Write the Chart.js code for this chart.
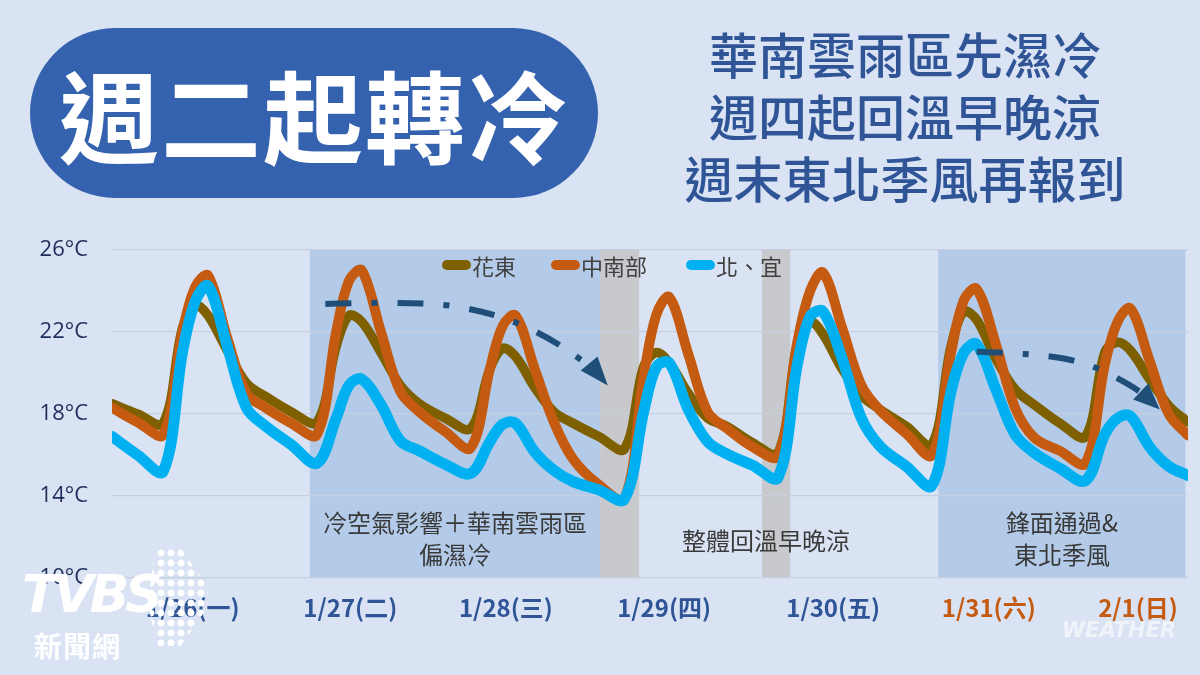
<!DOCTYPE html>
<html><head><meta charset="utf-8">
<script src="https://cdn.jsdelivr.net/npm/chart.js@4.4.1/dist/chart.umd.min.js"></script>
<style>
html,body{margin:0;padding:0;background:#dae3f3;}
#wrap{position:relative;width:1200px;height:675px;overflow:hidden;background:#dae3f3;font-family:"Noto Sans CJK TC","Noto Sans",sans-serif;}
#chart{position:absolute;left:0;top:0;}
.pill{position:absolute;left:30px;top:28px;width:568px;height:170px;border-radius:85px;background:#3562ae;color:#fff;font-size:100px;font-weight:700;line-height:170px;text-align:center;letter-spacing:2px;}
.sub{position:absolute;left:640px;top:22px;width:530px;text-align:center;color:#2f5597;font-size:49px;font-weight:500;line-height:62px;}
.band-txt{position:absolute;text-align:center;color:#3a3a3a;font-size:24px;line-height:32px;}
.legend{position:absolute;top:251px;height:28px;font-size:22px;color:#404040;line-height:28px;}
.legend span.bar{position:absolute;top:9px;width:29px;height:10px;border-radius:5px;}
.legend span.t{position:absolute;left:30px;white-space:nowrap;}
.logo{position:absolute;left:22px;top:568px;width:200px;height:110px;}
.tvbs{position:absolute;left:0;top:0;font-family:"DejaVu Sans",sans-serif;font-weight:900;font-style:italic;font-size:52px;color:#fff;letter-spacing:-4px;line-height:52px;}
.xin{position:absolute;left:12px;top:60px;font-size:28px;font-weight:700;color:#fff;line-height:34px;letter-spacing:1px;}
.dots{position:absolute;left:114px;top:-20px;width:72px;height:98px;background-image:radial-gradient(circle,#fff 3.2px,transparent 3.8px);background-size:10px 10px;clip-path:polygon(30% 0,62% 0,100% 40%,100% 60%,62% 100%,30% 100%,20% 70%,20% 30%);}
.wx{position:absolute;left:1062px;top:618px;font-family:"DejaVu Sans",sans-serif;font-style:italic;font-weight:700;font-size:21px;color:rgba(255,255,255,0.6);}
</style></head>
<body>
<div id="wrap">
<canvas id="chart" width="1200" height="675"></canvas>
<div class="pill">週二起轉冷</div>
<div class="sub">華南雲雨區先濕冷<br>週四起回溫早晚涼<br>週末東北季風再報到</div>
<div class="legend" style="left:442px"><span class="bar" style="background:#7f6000"></span><span class="t">花東</span></div>
<div class="legend" style="left:551px"><span class="bar" style="background:#c55a11"></span><span class="t">中南部</span></div>
<div class="legend" style="left:686px"><span class="bar" style="background:#00b0f0"></span><span class="t">北、宜</span></div>
<div class="band-txt" style="left:305px;top:506px;width:300px;">冷空氣影響＋華南雲雨區<br>偏濕冷</div>
<div class="band-txt" style="left:660px;top:524px;width:212px;">整體回溫早晚涼</div>
<div class="band-txt" style="left:962px;top:506px;width:200px;">鋒面通過&amp;<br>東北季風</div>
<div class="logo"><div class="dots"></div><div class="tvbs">TVBS</div><div class="xin">新聞網</div></div>
<div class="wx">WEATHER</div>
</div>
<script>
// hours from the left edge of the axis (1/26 00h)
const hours = [0,4,8,11,13,15,18,21, 24,28,32,35,37,39,42,45, 48,52,56,59,61,63,66,69, 72,76,80,83,85,87,90,93, 96,100,104,107,109,111,114,117, 120,124,128,131,133,135,138,141, 144,148,152,155,157,159,162,165, 168];
const huadong = [18.5,18.0,17.55,22.2,23.3,22.8,21.1,19.5, 18.85,18.1,17.6,21.3,22.8,22.5,21.0,19.4, 18.5,17.8,17.3,20.2,21.2,20.8,19.3,18.1, 17.55,16.9,16.3,20.3,21.0,20.5,19.0,17.8, 17.4,16.6,16.1,21.4,22.5,21.9,20.2,18.9, 18.2,17.4,16.5,21.3,23.0,22.6,20.7,19.2, 18.45,17.55,16.9,21.0,21.5,21.1,19.7,18.4, 17.6];
const zhongnan = [18.3,17.6,17.0,22.0,24.2,24.75,21.7,19.0, 18.3,17.55,17.0,22.0,24.5,25.0,22.0,19.1, 18.1,17.15,16.35,20.2,22.3,22.8,20.2,17.6, 15.8,14.55,13.85,19.8,22.85,23.7,20.9,18.1, 17.3,16.4,15.95,21.5,24.0,24.9,22.2,19.4, 18.15,17.05,16.0,21.0,23.55,24.1,21.4,18.3, 16.85,16.2,15.6,20.4,22.5,23.15,20.6,18.0, 16.95];
const beiyi = [16.9,16.0,15.2,21.0,23.5,24.25,21.3,18.3, 17.4,16.5,15.6,17.8,19.4,19.7,18.45,16.7, 16.2,15.55,15.1,16.65,17.5,17.55,16.15,15.25, 14.7,14.3,13.85,18.1,20.3,20.5,18.2,16.65, 16.05,15.5,14.9,20.4,22.75,23.0,20.7,17.8, 16.4,15.45,14.5,19.1,21.0,21.4,19.2,17.0, 16.1,15.35,14.75,17.0,17.8,17.9,16.4,15.45, 15.0];
const seriesNames = ['花東','中南部','北、宜'];
const dayLabels = ['1/26(一)','1/27(二)','1/28(三)','1/29(四)','1/30(五)','1/31(六)','2/1(日)'];
const dayTickHours = [12.6,37.2,61.5,86.2,112.6,136.9,160.2];
const yTicks = [10,14,18,22,26];

// background bands (hours)
const bandFrom = [30.9, 76.2, 101.5, 129.0];
const bandTo   = [76.2, 82.3, 105.9, 167.6];
const bandKind = ['blue','grey','grey','blue'];
// trend arrows (hours, °C)
const arrow1 = [[33.3,23.37],[48.1,23.52],[59.0,22.98],[67.6,21.87],[75.1,20.24]];
const arrow1Tip = [77.4,19.39];
const arrow2 = [[135.0,21.04],[144.9,20.94],[152.7,20.45],[158.9,19.43],[161.3,18.9]];
const arrow2Tip = [163.6,18.22];

const bandColors = {blue:'#b3cbe8', grey:'#c8c9cd'};
const bandsPlugin = {
  id:'bands',
  beforeDraw(chart){
    const {ctx, chartArea:{top,bottom}, scales:{x}} = chart;
    ctx.save();
    bandFrom.forEach((f,i)=>{
      const a = x.getPixelForValue(f), b = x.getPixelForValue(bandTo[i]);
      ctx.fillStyle = bandColors[bandKind[i]];
      ctx.fillRect(a, top, b-a, bottom-top);
    });
    ctx.restore();
  }
};
function drawArrow(chart, pts, tip){
  const {ctx, scales:{x,y}} = chart;
  const P = pts.map(p=>[x.getPixelForValue(p[0]), y.getPixelForValue(p[1])]);
  const T = [x.getPixelForValue(tip[0]), y.getPixelForValue(tip[1])];
  ctx.save();
  ctx.strokeStyle = '#1f4e79'; ctx.fillStyle = '#1f4e79';
  ctx.lineWidth = 6; ctx.setLineDash([26,20,6,20]);
  ctx.beginPath(); ctx.moveTo(P[0][0],P[0][1]);
  for(let i=1;i<P.length-1;i++){
    const mx=(P[i][0]+P[i+1][0])/2, my=(P[i][1]+P[i+1][1])/2;
    ctx.quadraticCurveTo(P[i][0],P[i][1],mx,my);
  }
  const L = P[P.length-1];
  ctx.lineTo(L[0],L[1]);
  ctx.stroke();
  ctx.setLineDash([]);
  const ang = Math.atan2(T[1]-L[1], T[0]-L[0]);
  const w = 11, back = 6;
  const bx = L[0]-Math.cos(ang)*back, by = L[1]-Math.sin(ang)*back;
  ctx.beginPath();
  ctx.moveTo(T[0],T[1]);
  ctx.lineTo(bx+Math.cos(ang+Math.PI/2)*w, by+Math.sin(ang+Math.PI/2)*w);
  ctx.lineTo(bx-Math.cos(ang+Math.PI/2)*w, by-Math.sin(ang+Math.PI/2)*w);
  ctx.closePath(); ctx.fill();
  ctx.restore();
}
const arrowsPlugin = {
  id:'arrows',
  afterDatasetsDraw(chart){ drawArrow(chart, arrow1, arrow1Tip); drawArrow(chart, arrow2, arrow2Tip); }
};

const toPts = arr => hours.map((h,i)=>({x:h, y:arr[i]}));
const lineColors = ['#7f6000','#c55a11','#00b0f0'];
new Chart(document.getElementById('chart'), {
  type:'line',
  data:{
    datasets:[
      {label:seriesNames[0], data:toPts(huadong), borderColor:lineColors[0], backgroundColor:lineColors[0], borderWidth:9.5, order:3},
      {label:seriesNames[1], data:toPts(zhongnan), borderColor:lineColors[1], backgroundColor:lineColors[1], borderWidth:10, order:2},
      {label:seriesNames[2], data:toPts(beiyi), borderColor:lineColors[2], backgroundColor:lineColors[2], borderWidth:11, order:1}
    ]
  },
  options:{
    responsive:false, animation:false, devicePixelRatio:1,
    layout:{padding:{top:250,right:12,left:0,bottom:0}},
    plugins:{legend:{display:false}, tooltip:{enabled:false}},
    elements:{
      point:{radius:0, hoverRadius:0},
      line:{tension:0.35, borderCapStyle:'round', borderJoinStyle:'round', fill:false}
    },
    scales:{
      x:{
        type:'linear', min:0, max:168,
        afterFit(s){ s.height = 97; },
        afterBuildTicks(s){ s.ticks = dayTickHours.map(v=>({value:v})); },
        ticks:{
          autoSkip:false, maxRotation:0, padding:7,
          callback:(v,i)=>dayLabels[i],
          color:c=> c.index>=5 ? '#c55a11' : '#2f5597',
          font:{family:'"Noto Sans CJK TC","Noto Sans",sans-serif', size:24, weight:'bold'}
        },
        grid:{display:false}, border:{display:false}
      },
      y:{
        min:10, max:26,
        afterFit(s){ s.width = 112; },
        afterBuildTicks(s){ s.ticks = yTicks.map(v=>({value:v})); },
        ticks:{
          padding:24, callback:v=>v+'°C', color:'#1f2d5a',
          font:{family:'"Open Sans","Noto Sans",sans-serif', size:22}
        },
        grid:{color:'#c6cee0', lineWidth:1.2, drawTicks:false}, border:{display:false}
      }
    }
  },
  plugins:[bandsPlugin, arrowsPlugin]
});
</script>
</body></html>
